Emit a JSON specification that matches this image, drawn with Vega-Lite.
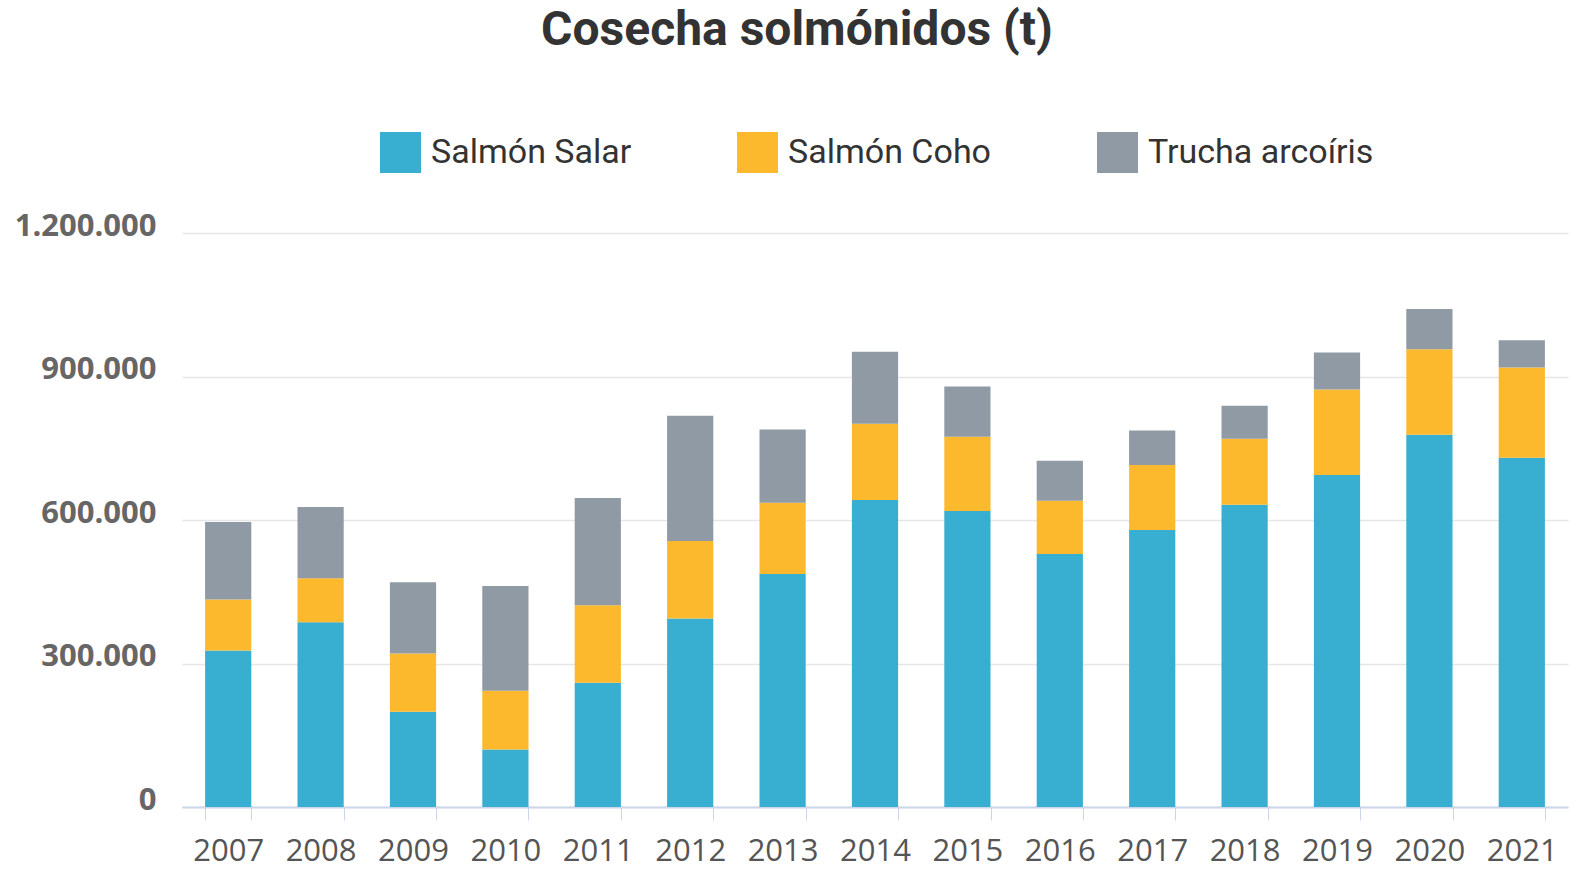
{
  "$schema": "https://vega.github.io/schema/vega-lite/v6.json",
  "autosize": {"type": "none"},
  "padding": {"left": 182, "top": 233, "right": 2, "bottom": 64},
  "width": 1386,
  "height": 574,
  "background": "white",
  "config": {
    "locale": {"number": {"decimal": ",", "thousands": ".", "grouping": [3], "currency": ["", ""]}},
    "view": {"stroke": null}
  },
  "title": {
    "text": "Cosecha solmónidos (t)",
    "font": "Roboto",
    "fontSize": 48,
    "fontWeight": "bold",
    "color": "#333333",
    "anchor": "middle",
    "frame": "group",
    "dx": -78,
    "dy": -67,
    "offset": 10
  },
  "data": {
    "values": [
      {"anio": "2007", "especie": "Salmón Salar", "t": 327000},
      {"anio": "2007", "especie": "Salmón Coho", "t": 107000},
      {"anio": "2007", "especie": "Trucha arcoíris", "t": 162000},
      {"anio": "2008", "especie": "Salmón Salar", "t": 386000},
      {"anio": "2008", "especie": "Salmón Coho", "t": 92000},
      {"anio": "2008", "especie": "Trucha arcoíris", "t": 149000},
      {"anio": "2009", "especie": "Salmón Salar", "t": 199000},
      {"anio": "2009", "especie": "Salmón Coho", "t": 122000},
      {"anio": "2009", "especie": "Trucha arcoíris", "t": 149000},
      {"anio": "2010", "especie": "Salmón Salar", "t": 120000},
      {"anio": "2010", "especie": "Salmón Coho", "t": 123000},
      {"anio": "2010", "especie": "Trucha arcoíris", "t": 219000},
      {"anio": "2011", "especie": "Salmón Salar", "t": 260000},
      {"anio": "2011", "especie": "Salmón Coho", "t": 162000},
      {"anio": "2011", "especie": "Trucha arcoíris", "t": 224000},
      {"anio": "2012", "especie": "Salmón Salar", "t": 394000},
      {"anio": "2012", "especie": "Salmón Coho", "t": 162000},
      {"anio": "2012", "especie": "Trucha arcoíris", "t": 262000},
      {"anio": "2013", "especie": "Salmón Salar", "t": 487000},
      {"anio": "2013", "especie": "Salmón Coho", "t": 149000},
      {"anio": "2013", "especie": "Trucha arcoíris", "t": 153000},
      {"anio": "2014", "especie": "Salmón Salar", "t": 642000},
      {"anio": "2014", "especie": "Salmón Coho", "t": 159000},
      {"anio": "2014", "especie": "Trucha arcoíris", "t": 151000},
      {"anio": "2015", "especie": "Salmón Salar", "t": 619000},
      {"anio": "2015", "especie": "Salmón Coho", "t": 155000},
      {"anio": "2015", "especie": "Trucha arcoíris", "t": 105000},
      {"anio": "2016", "especie": "Salmón Salar", "t": 529000},
      {"anio": "2016", "especie": "Salmón Coho", "t": 111000},
      {"anio": "2016", "especie": "Trucha arcoíris", "t": 84000},
      {"anio": "2017", "especie": "Salmón Salar", "t": 579000},
      {"anio": "2017", "especie": "Salmón Coho", "t": 136000},
      {"anio": "2017", "especie": "Trucha arcoíris", "t": 72000},
      {"anio": "2018", "especie": "Salmón Salar", "t": 632000},
      {"anio": "2018", "especie": "Salmón Coho", "t": 138000},
      {"anio": "2018", "especie": "Trucha arcoíris", "t": 69000},
      {"anio": "2019", "especie": "Salmón Salar", "t": 694000},
      {"anio": "2019", "especie": "Salmón Coho", "t": 179000},
      {"anio": "2019", "especie": "Trucha arcoíris", "t": 77000},
      {"anio": "2020", "especie": "Salmón Salar", "t": 778000},
      {"anio": "2020", "especie": "Salmón Coho", "t": 179000},
      {"anio": "2020", "especie": "Trucha arcoíris", "t": 84000},
      {"anio": "2021", "especie": "Salmón Salar", "t": 730000},
      {"anio": "2021", "especie": "Salmón Coho", "t": 189000},
      {"anio": "2021", "especie": "Trucha arcoíris", "t": 57000}
    ]
  },
  "transform": [
    {"calculate": "indexof(['Salmón Salar', 'Salmón Coho', 'Trucha arcoíris'], datum.especie)", "as": "orden"}
  ],
  "mark": {"type": "bar"},
  "encoding": {
    "x": {
      "field": "anio",
      "type": "nominal",
      "scale": {"paddingInner": 0.5, "paddingOuter": 0.25},
      "axis": {
        "title": null,
        "labelAngle": 0,
        "labelFont": "Open Sans",
        "labelFontSize": 31,
        "labelColor": "#555555",
        "labelPadding": 16,
        "domainColor": "#ccd6eb",
        "domainWidth": 2,
        "tickColor": "#ccd6eb",
        "tickWidth": 1,
        "tickSize": 13,
        "tickBand": "extent",
        "grid": false
      }
    },
    "y": {
      "field": "t",
      "type": "quantitative",
      "aggregate": "sum",
      "stack": "zero",
      "scale": {"domain": [0, 1200000], "nice": false},
      "axis": {
        "title": null,
        "values": [0, 300000, 600000, 900000, 1200000],
        "format": ",d",
        "labelFont": "Open Sans",
        "labelFontSize": 31,
        "labelFontWeight": "bold",
        "labelColor": "#666666",
        "labelPadding": 26,
        "labelOffset": -7,
        "domain": false,
        "ticks": false,
        "grid": true,
        "gridColor": "#e6e6e6",
        "gridWidth": 1.5
      }
    },
    "order": {"field": "orden", "type": "quantitative", "sort": "ascending"},
    "color": {
      "field": "especie",
      "type": "nominal",
      "scale": {
        "domain": ["Salmón Salar", "Salmón Coho", "Trucha arcoíris"],
        "range": ["#38aed1", "#fdb92d", "#8f9aa4"]
      },
      "legend": {
        "title": null,
        "orient": "none",
        "direction": "horizontal",
        "legendX": 198,
        "legendY": -101,
        "padding": 0,
        "symbolType": "square",
        "symbolSize": 1681,
        "symbolStrokeWidth": 0,
        "symbolOpacity": 1,
        "labelFont": "Roboto",
        "labelFontSize": 34,
        "labelColor": "#333333",
        "labelOffset": 10,
        "labelLimit": 500,
        "columnPadding": 105
      }
    }
  }
}
